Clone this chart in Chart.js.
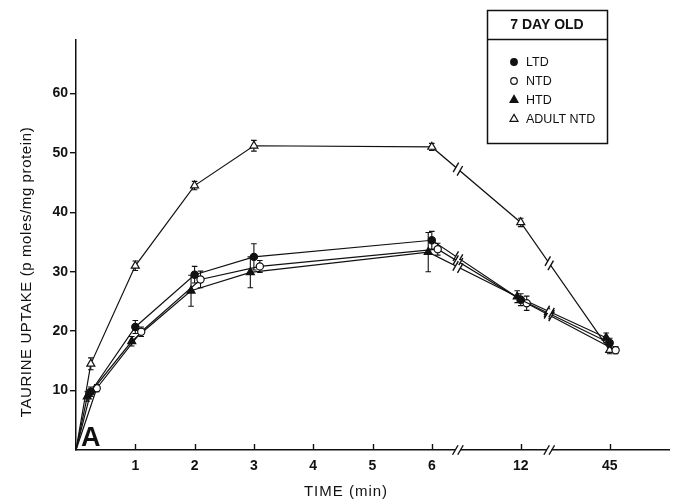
<!DOCTYPE html>
<html>
<head>
<meta charset="utf-8">
<script src="https://cdn.jsdelivr.net/npm/chart.js@4.4.1/dist/chart.umd.min.js"></script>
<style>
  html, body { margin: 0; padding: 0; background: #fff; }
  #wrap { width: 682px; height: 504px; }
</style>
</head>
<body>
<div id="wrap"><canvas id="c" width="682" height="504"></canvas></div>
<script>
// Incubation times (min) at which uptake was sampled
const timeMin = [0, 0.25, 1, 2, 3, 6, 12, 45];

// Taurine uptake, p moles/mg protein (mean) and error (SEM)
const ltd      = [0, 9.8, 20.7, 29.5, 32.5, 35.3, 25.3, 18.0];
const ltdErr   = [0, 0.8, 1.1, 1.4, 2.2, 1.5, 1.0, 0.8];
const ntd      = [0, 10.4, 19.9, 28.7, 30.9, 33.8, 24.7, 16.8];
const ntdErr   = [0, 0.6, 0.8, 1.4, 1.0, 1.0, 1.2, 0.6];
const htd      = [0, 9.0, 18.3, 26.8, 29.9, 33.3, 25.8, 18.9];
const htdErr   = [0, 0.8, 0.8, 2.6, 2.6, 3.3, 1.0, 0.8];
const adultNtd = [0, 14.5, 31.0, 44.5, 51.2, 51.0, 38.3, 16.8];
const adultErr = [0, 1.0, 0.8, 0.7, 0.9, 0.6, 0.7, 0.6];

const seriesNames = ['LTD', 'NTD', 'HTD', 'ADULT NTD'];
const legendTitle = '7 DAY OLD';

// Axis ticks and labels
const xTickTimes  = [1, 2, 3, 4, 5, 6, 12, 45];
const xTickLabels = ['1', '2', '3', '4', '5', '6', '12', '45'];
const yTicks      = [10, 20, 30, 40, 50, 60];
const xTitle = 'TIME (min)';
const yTitle = 'TAURINE UPTAKE (p moles/mg protein)';
const panelLabel = 'A';

// Broken time axis: linear to 6 min, then 12 and 45 min on compressed segments
function axisPos(t) {
  if (t <= 6) return t;
  if (t <= 12) return 6 + (t - 6) / 6 * 1.5;
  return 7.5 + (t - 12) / 33 * 1.5;
}
const breakPos = [6.44, 7.98];

// Marker styling per series
const styles = {
  'LTD':       { shape: 'circle',   fill: '#111', r: 3.6, dx: 0 },
  'NTD':       { shape: 'circle',   fill: '#fff', r: 3.6, dx: 0.1 },
  'HTD':       { shape: 'triangle', fill: '#111', r: 4.6, dx: -0.06 },
  'ADULT NTD': { shape: 'triangle', fill: '#fff', r: 4.6, dx: 0 }
};
const values = [ltd, ntd, htd, adultNtd];
const errors = [ltdErr, ntdErr, htdErr, adultErr];

const FONT = "'Liberation Sans', Arial, Helvetica, sans-serif";

const datasets = seriesNames.map((name, k) => {
  const st = styles[name];
  return {
    label: name,
    data: timeMin.map((t, i) => ({ x: axisPos(t) + (i > 0 ? st.dx : 0), y: values[k][i] })),
    errors: errors[k],
    borderColor: '#111',
    borderWidth: 1.2,
    tension: 0,
    pointStyle: st.shape,
    pointRadius: timeMin.map((t, i) => i === 0 ? 0 : st.r),
    pointHoverRadius: timeMin.map((t, i) => i === 0 ? 0 : st.r),
    pointBackgroundColor: st.fill,
    pointBorderColor: '#111',
    pointBorderWidth: 1.2,
    fill: false
  };
});

function slash(ctx, x, y, len) {
  const ax = Math.cos(Math.PI / 3) * len / 2, ay = Math.sin(Math.PI / 3) * len / 2;
  ctx.beginPath();
  ctx.moveTo(x - ax, y + ay);
  ctx.lineTo(x + ax, y - ay);
  ctx.stroke();
}

function drawBreak(ctx, x, y, ux, uy, len) {
  ctx.save();
  ctx.strokeStyle = '#fff';
  ctx.lineWidth = 4;
  ctx.beginPath();
  ctx.moveTo(x - ux * 2.5, y - uy * 2.5);
  ctx.lineTo(x + ux * 2.5, y + uy * 2.5);
  ctx.stroke();
  ctx.strokeStyle = '#111';
  ctx.lineWidth = 1.4;
  slash(ctx, x - ux * 2.6, y - uy * 2.6, len);
  slash(ctx, x + ux * 2.6, y + uy * 2.6, len);
  ctx.restore();
}

function drawMarker(ctx, shape, fill, r, x, y) {
  ctx.save();
  ctx.fillStyle = fill;
  ctx.strokeStyle = '#111';
  ctx.lineWidth = 1.2;
  ctx.beginPath();
  if (shape === 'circle') {
    ctx.arc(x, y, r, 0, Math.PI * 2);
  } else {
    ctx.moveTo(x, y - r);
    ctx.lineTo(x + r * 0.866, y + r * 0.5);
    ctx.lineTo(x - r * 0.866, y + r * 0.5);
    ctx.closePath();
  }
  ctx.fill();
  ctx.stroke();
  ctx.restore();
}

const decorations = {
  id: 'decorations',
  beforeDatasetsDraw(chart) {
    // error bars with caps
    const { ctx, scales: { x, y } } = chart;
    ctx.save();
    ctx.strokeStyle = '#111';
    ctx.lineWidth = 1.1;
    chart.data.datasets.forEach(ds => {
      ds.data.forEach((p, i) => {
        const e = ds.errors[i];
        if (!e) return;
        const px = x.getPixelForValue(p.x);
        const y1 = y.getPixelForValue(p.y - e), y2 = y.getPixelForValue(p.y + e);
        ctx.beginPath();
        ctx.moveTo(px, y1); ctx.lineTo(px, y2);
        ctx.moveTo(px - 2.8, y1); ctx.lineTo(px + 2.8, y1);
        ctx.moveTo(px - 2.8, y2); ctx.lineTo(px + 2.8, y2);
        ctx.stroke();
      });
    });
    ctx.restore();
  },
  afterDatasetsDraw(chart) {
    const { ctx, scales: { x, y }, chartArea } = chart;

    // break marks on every curve across the compressed time segments
    chart.data.datasets.forEach(ds => {
      breakPos.forEach(bp => {
        let j = ds.data.findIndex(p => p.x > bp);
        if (j < 1) return;
        const a = ds.data[j - 1], b = ds.data[j];
        const ax = x.getPixelForValue(a.x), ay = y.getPixelForValue(a.y);
        const bx = x.getPixelForValue(b.x), by = y.getPixelForValue(b.y);
        const px = x.getPixelForValue(bp);
        const py = ay + (by - ay) * (px - ax) / (bx - ax);
        const L = Math.hypot(bx - ax, by - ay);
        drawBreak(ctx, px, py, (bx - ax) / L, (by - ay) / L, 11);
      });
    });

    // break marks on the time axis
    breakPos.forEach(bp => {
      drawBreak(ctx, x.getPixelForValue(bp), chartArea.bottom, 1, 0, 11);
    });

    // inward tick marks on the time axis
    ctx.save();
    ctx.strokeStyle = '#111';
    ctx.lineWidth = 1.4;
    xTickTimes.forEach(t => {
      const px = Math.round(x.getPixelForValue(axisPos(t))) + 0.5;
      ctx.beginPath();
      ctx.moveTo(px, chartArea.bottom);
      ctx.lineTo(px, chartArea.bottom - 6);
      ctx.stroke();
    });
    ctx.restore();

    // axis titles and panel letter
    ctx.save();
    ctx.fillStyle = '#111';
    ctx.textAlign = 'center';
    ctx.textBaseline = 'middle';
    ctx.font = '15px ' + FONT;
    ctx.letterSpacing = '1px';
    ctx.fillText(xTitle, 346, 492);
    ctx.save();
    ctx.translate(27, 272);
    ctx.rotate(-Math.PI / 2);
    ctx.letterSpacing = '0.6px';
    ctx.fillText(yTitle, 0, 0);
    ctx.restore();
    ctx.letterSpacing = '0px';
    ctx.textAlign = 'left';
    ctx.textBaseline = 'alphabetic';
    ctx.font = 'bold 27px ' + FONT;
    ctx.fillText(panelLabel, 81, 446);
    ctx.restore();

    // boxed legend
    ctx.save();
    ctx.strokeStyle = '#111';
    ctx.lineWidth = 1.5;
    ctx.strokeRect(487.5, 10.5, 120, 133);
    ctx.beginPath();
    ctx.moveTo(487.5, 39.5); ctx.lineTo(607.5, 39.5);
    ctx.stroke();
    ctx.fillStyle = '#111';
    ctx.textAlign = 'center';
    ctx.textBaseline = 'middle';
    ctx.font = 'bold 14px ' + FONT;
    ctx.fillText(legendTitle, 547, 25);
    ctx.textAlign = 'left';
    ctx.font = '12.5px ' + FONT;
    seriesNames.forEach((name, k) => {
      const st = styles[name];
      const ry = 62 + k * 19;
      drawMarker(ctx, st.shape, st.fill, st.shape === 'circle' ? 3.3 : 4.6, 514, ry);
      ctx.fillStyle = '#111';
      ctx.fillText(name, 526, ry + 1);
    });
    ctx.restore();
  }
};

new Chart(document.getElementById('c'), {
  type: 'line',
  data: { datasets },
  options: {
    responsive: false,
    animation: false,
    devicePixelRatio: 1,
    layout: { padding: { left: 0, right: 13, top: 40, bottom: 0 } },
    plugins: { legend: { display: false }, tooltip: { enabled: false } },
    scales: {
      x: {
        type: 'linear',
        min: 0,
        max: 10,
        afterBuildTicks: s => { s.ticks = xTickTimes.map(t => ({ value: axisPos(t) })); },
        afterFit: s => { s.height = 54; },
        grid: { display: false },
        border: { display: true, color: '#111', width: 1.5 },
        ticks: {
          autoSkip: false,
          maxRotation: 0,
          padding: 0,
          color: '#111',
          font: { family: FONT, size: 14, weight: 'bold' },
          callback: (v, i) => xTickLabels[i]
        }
      },
      y: {
        type: 'linear',
        min: 0,
        max: 69,
        afterBuildTicks: s => { s.ticks = yTicks.map(v => ({ value: v })); },
        afterFit: s => { s.width = 76; },
        grid: { display: true, drawOnChartArea: false, drawTicks: true, tickLength: 6, color: '#111', lineWidth: 1.4 },
        border: { display: true, color: '#111', width: 1.5 },
        ticks: {
          padding: 2,
          color: '#111',
          font: { family: FONT, size: 14, weight: 'bold' },
          callback: v => String(v)
        }
      }
    }
  },
  plugins: [decorations]
});
</script>
</body>
</html>
